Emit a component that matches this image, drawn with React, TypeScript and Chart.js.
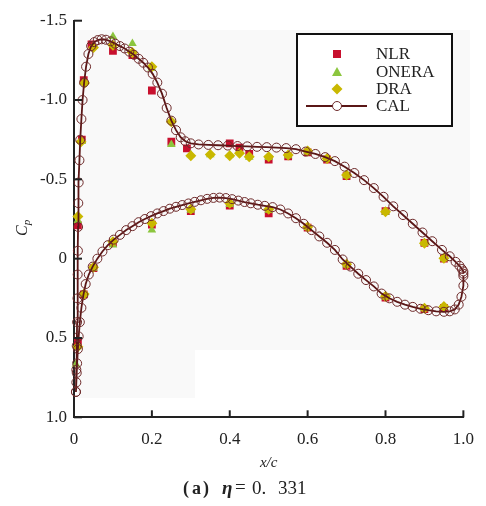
import React, { useEffect, useRef } from 'react';
import { Chart, registerables } from 'chart.js';
Chart.register(...registerables);

// ---------- tick labels ----------
const xTickValues = [0, 0.2, 0.4, 0.6, 0.8, 1.0];
const xTickLabels = ['0', '0.2', '0.4', '0.6', '0.8', '1.0'];
const yTickValues = [-1.5, -1.0, -0.5, 0, 0.5, 1.0];
const yTickLabels = ['-1.5', '-1.0', '-0.5', '0', '0.5', '1.0'];

const seriesNames = ['NLR', 'ONERA', 'DRA', 'CAL'];

// ---------- NLR (experiment) ----------
const nlrX = [0.01, 0.01, 0.02, 0.025, 0.045, 0.1, 0.15, 0.2, 0.25, 0.29, 0.4, 0.425, 0.45, 0.5, 0.55, 0.6, 0.65, 0.7, 0.8, 0.9, 0.95,
  0.025, 0.05, 0.1, 0.2, 0.3, 0.4, 0.5, 0.6, 0.7, 0.8, 0.9, 0.95];
const nlrCp = [0.53, -0.21, -0.75, -1.125, -1.35, -1.31, -1.283, -1.06, -0.737, -0.695, -0.727, -0.70, -0.66, -0.625, -0.645, -0.67, -0.625, -0.52, -0.30, -0.10, 0.0,
  0.225, 0.06, -0.10, -0.215, -0.30, -0.335, -0.285, -0.195, 0.045, 0.245, 0.318, 0.31];

// ---------- ONERA (experiment) ----------
const oneraX = [0.005, 0.01, 0.02, 0.025, 0.05, 0.1, 0.15, 0.2, 0.25, 0.3, 0.35, 0.4, 0.45, 0.5, 0.55, 0.6, 0.65, 0.7, 0.8, 0.9, 0.95,
  0.025, 0.05, 0.1, 0.2, 0.3, 0.4, 0.5, 0.6, 0.7, 0.8, 0.9, 0.95];
const oneraCp = [0.665, -0.24, -0.74, -1.11, -1.34, -1.40, -1.356, -1.20, -0.72, -0.655, -0.655, -0.653, -0.64, -0.638, -0.648, -0.673, -0.628, -0.522, -0.292, -0.097, 0.0,
  0.225, 0.06, -0.086, -0.18, -0.305, -0.342, -0.305, -0.196, 0.04, 0.242, 0.316, 0.306];

// ---------- DRA (experiment) ----------
const draX = [0.01, 0.01, 0.018, 0.027, 0.05, 0.1, 0.15, 0.2, 0.25, 0.3, 0.35, 0.4, 0.425, 0.45, 0.5, 0.55, 0.6, 0.65, 0.7, 0.8, 0.9, 0.95,
  0.026, 0.05, 0.1, 0.2, 0.3, 0.4, 0.5, 0.6, 0.7, 0.8, 0.9, 0.95];
const draCp = [0.555, -0.265, -0.737, -1.108, -1.331, -1.346, -1.30, -1.209, -0.863, -0.649, -0.657, -0.649, -0.664, -0.642, -0.642, -0.653, -0.678, -0.632, -0.527, -0.296, -0.097, -0.002,
  0.222, 0.054, -0.107, -0.223, -0.311, -0.349, -0.311, -0.20, 0.035, 0.237, 0.312, 0.302];

// ---------- CAL (computation), upper surface LE -> TE ----------
const calUpperX = [0.005, 0.006, 0.007, 0.008, 0.009, 0.0095, 0.010, 0.0105, 0.011, 0.012, 0.014, 0.016, 0.019, 0.022, 0.026, 0.031, 0.037, 0.044, 0.052, 0.061,
  0.071, 0.082, 0.094, 0.106, 0.118, 0.130, 0.142, 0.154, 0.166, 0.178, 0.190, 0.202, 0.214, 0.226, 0.238, 0.250, 0.262, 0.274, 0.286, 0.300,
  0.320, 0.345, 0.370, 0.395, 0.420, 0.445, 0.470, 0.495, 0.520, 0.545, 0.570, 0.595, 0.620, 0.645, 0.670, 0.695, 0.720, 0.745, 0.770, 0.795,
  0.820, 0.845, 0.870, 0.895, 0.920, 0.945, 0.965, 0.980, 0.990, 0.996, 1.000, 1.000];
const calUpperCp = [0.84, 0.70, 0.55, 0.40, 0.25, 0.10, -0.05, -0.20, -0.35, -0.48, -0.62, -0.75, -0.88, -1.00, -1.11, -1.21, -1.29, -1.34, -1.365, -1.378,
  -1.383, -1.38, -1.37, -1.355, -1.34, -1.325, -1.305, -1.285, -1.26, -1.235, -1.205, -1.165, -1.11, -1.04, -0.95, -0.87, -0.81, -0.765, -0.74, -0.727,
  -0.72, -0.717, -0.715, -0.713, -0.71, -0.708, -0.705, -0.703, -0.70, -0.697, -0.69, -0.675, -0.66, -0.64, -0.615, -0.58, -0.54, -0.495, -0.445, -0.39,
  -0.33, -0.275, -0.22, -0.165, -0.11, -0.055, -0.015, 0.02, 0.045, 0.065, 0.08, 0.095];

// ---------- CAL (computation), lower surface LE -> TE ----------
const calLowerX = [0.005, 0.006, 0.007, 0.008, 0.010, 0.012, 0.015, 0.019, 0.024, 0.030, 0.038, 0.048, 0.060, 0.073, 0.087, 0.102, 0.118, 0.134, 0.150, 0.166,
  0.182, 0.198, 0.214, 0.230, 0.246, 0.262, 0.278, 0.294, 0.310, 0.326, 0.342, 0.358, 0.374, 0.390, 0.406, 0.422, 0.438, 0.454, 0.472, 0.490,
  0.510, 0.530, 0.550, 0.570, 0.590, 0.610, 0.630, 0.650, 0.670, 0.690, 0.710, 0.730, 0.750, 0.770, 0.790, 0.810, 0.830, 0.850, 0.870, 0.890,
  0.910, 0.930, 0.950, 0.965, 0.978, 0.988, 0.995, 1.000, 1.000];
const calLowerCp = [0.84, 0.78, 0.72, 0.66, 0.57, 0.49, 0.40, 0.31, 0.23, 0.16, 0.10, 0.05, 0.00, -0.045, -0.085, -0.12, -0.15, -0.18, -0.205, -0.23,
  -0.25, -0.268, -0.285, -0.30, -0.315, -0.327, -0.338, -0.348, -0.358, -0.368, -0.377, -0.383, -0.385, -0.382, -0.375, -0.366, -0.357, -0.349, -0.34, -0.333,
  -0.325, -0.31, -0.285, -0.255, -0.22, -0.18, -0.14, -0.10, -0.055, 0.005, 0.05, 0.095, 0.135, 0.175, 0.22, 0.25, 0.272, 0.29, 0.304, 0.316,
  0.325, 0.332, 0.335, 0.332, 0.32, 0.29, 0.24, 0.17, 0.11];

const zip = (xs: number[], ys: number[]) => xs.map((x, i) => ({ x, y: ys[i] }));

const SERIF = '"Liberation Serif", "DejaVu Serif", serif';
const TEXT = '#222';
const NLR_COLOR = '#c8102e';
const ONERA_COLOR = '#8cc63e';
const DRA_COLOR = '#c9b800';
const CAL_LINE = '#5a1616';
const CAL_POINT = '#6e2a2a';

function labelFor(values: number[], labels: string[], v: number) {
  const i = values.findIndex((t) => Math.abs(t - v) < 1e-6);
  return i >= 0 ? labels[i] : '';
}

const decorPlugin = {
  id: 'decor',
  beforeDatasetsDraw(chart: any) {
    const { ctx } = chart;
    ctx.save();
    ctx.fillStyle = '#f9f9f9';
    ctx.fillRect(78, 30, 392, 320);
    ctx.fillRect(78, 350, 117, 48);
    ctx.restore();
  },
  afterDraw(chart: any) {
    const { ctx, chartArea, scales } = chart;
    const xs = scales.x;
    const ys = scales.y;
    ctx.save();
    // inward tick marks
    ctx.strokeStyle = '#222';
    ctx.lineWidth = 2;
    ys.ticks.forEach((t: any) => {
      const y = ys.getPixelForValue(t.value);
      ctx.beginPath();
      ctx.moveTo(chartArea.left, y);
      ctx.lineTo(chartArea.left + 8, y);
      ctx.stroke();
    });
    xs.ticks.forEach((t: any) => {
      const x = xs.getPixelForValue(t.value);
      ctx.beginPath();
      ctx.moveTo(x, chartArea.bottom);
      ctx.lineTo(x, chartArea.bottom - 7);
      ctx.stroke();
    });

    // x axis title
    ctx.fillStyle = TEXT;
    ctx.font = `italic 15px ${SERIF}`;
    ctx.textAlign = 'center';
    ctx.textBaseline = 'middle';
    ctx.fillText('x/c', (chartArea.left + chartArea.right) / 2, 463);

    // y axis title C_p (rotated)
    ctx.save();
    ctx.translate(22, 236);
    ctx.rotate(-Math.PI / 2);
    ctx.textAlign = 'left';
    ctx.textBaseline = 'alphabetic';
    ctx.font = `italic 16px ${SERIF}`;
    ctx.fillText('C', 0, 5);
    const cw = ctx.measureText('C').width;
    ctx.font = `italic 11px ${SERIF}`;
    ctx.fillText('p', cw, 8);
    ctx.restore();

    // caption
    ctx.textAlign = 'left';
    ctx.textBaseline = 'middle';
    const cy = 489;
    ctx.font = `bold 18px ${SERIF}`;
    ctx.fillText('(', 183, cy);
    ctx.fillText('a', 192, cy);
    ctx.fillText(')', 203, cy);
    ctx.font = `bold italic 19px ${SERIF}`;
    ctx.fillText('η', 222, cy);
    ctx.font = `19px ${SERIF}`;
    ctx.fillText('=', 235, cy - 1);
    ctx.fillText('0.', 252, cy);
    ctx.fillText('331', 278, cy);

    // legend
    const bx = 297, by = 34, bw = 155, bh = 92;
    ctx.fillStyle = '#ffffff';
    ctx.fillRect(bx, by, bw, bh);
    ctx.strokeStyle = '#111';
    ctx.lineWidth = 2;
    ctx.strokeRect(bx, by, bw, bh);
    const mx = 337;
    const tx = 376;
    const rows = [54, 72, 89, 106];
    // NLR square
    ctx.fillStyle = NLR_COLOR;
    ctx.fillRect(mx - 4, rows[0] - 4, 8, 8);
    // ONERA triangle
    ctx.fillStyle = ONERA_COLOR;
    ctx.beginPath();
    ctx.moveTo(mx, rows[1] - 5);
    ctx.lineTo(mx + 5, rows[1] + 4);
    ctx.lineTo(mx - 5, rows[1] + 4);
    ctx.closePath();
    ctx.fill();
    // DRA diamond
    ctx.fillStyle = DRA_COLOR;
    ctx.beginPath();
    ctx.moveTo(mx, rows[2] - 5.5);
    ctx.lineTo(mx + 5.5, rows[2]);
    ctx.lineTo(mx, rows[2] + 5.5);
    ctx.lineTo(mx - 5.5, rows[2]);
    ctx.closePath();
    ctx.fill();
    // CAL line + circle
    ctx.strokeStyle = CAL_LINE;
    ctx.lineWidth = 2;
    ctx.beginPath();
    ctx.moveTo(306, rows[3]);
    ctx.lineTo(367, rows[3]);
    ctx.stroke();
    ctx.fillStyle = '#fff';
    ctx.strokeStyle = CAL_POINT;
    ctx.lineWidth = 1;
    ctx.beginPath();
    ctx.arc(mx, rows[3], 4.5, 0, Math.PI * 2);
    ctx.fill();
    ctx.stroke();

    ctx.fillStyle = TEXT;
    ctx.font = `17px ${SERIF}`;
    ctx.textAlign = 'left';
    ctx.textBaseline = 'middle';
    seriesNames.forEach((n, i) => ctx.fillText(n, tx, rows[i] + 1));
    ctx.restore();
  },
};

export default function App() {
  const ref = useRef<HTMLCanvasElement | null>(null);
  useEffect(() => {
    if (!ref.current) return;
    const chart = new Chart(ref.current, {
      type: 'scatter',
      data: {
        datasets: [
          {
            label: seriesNames[0],
            data: zip(nlrX, nlrCp),
            order: 3,
            pointStyle: 'rect',
            pointRadius: 5.5,
            backgroundColor: NLR_COLOR,
            borderColor: NLR_COLOR,
            pointBorderWidth: 0,
            clip: 8,
          },
          {
            label: seriesNames[1],
            data: zip(oneraX, oneraCp),
            order: 2,
            pointStyle: 'triangle',
            pointRadius: 5,
            backgroundColor: ONERA_COLOR,
            borderColor: ONERA_COLOR,
            pointBorderWidth: 0,
            clip: 8,
          },
          {
            label: seriesNames[2],
            data: zip(draX, draCp),
            order: 1,
            pointStyle: 'rectRot',
            pointRadius: 5.5,
            backgroundColor: DRA_COLOR,
            borderColor: DRA_COLOR,
            pointBorderWidth: 0,
            clip: 8,
          },
          {
            label: seriesNames[3],
            data: [...zip(calLowerX, calLowerCp).reverse(), ...zip(calUpperX, calUpperCp)],
            order: 0,
            showLine: true,
            tension: 0,
            borderColor: CAL_LINE,
            borderWidth: 1.8,
            pointStyle: 'circle',
            pointRadius: 4.5,
            pointBorderColor: CAL_POINT,
            pointBackgroundColor: 'rgba(0,0,0,0)',
            pointBorderWidth: 1,
            clip: 8,
          } as any,
        ],
      },
      options: {
        animation: false,
        responsive: false,
        maintainAspectRatio: false,
        devicePixelRatio: 1,
        layout: { padding: { top: 20.7, right: 20, left: 0, bottom: 0 } },
        plugins: { legend: { display: false }, tooltip: { enabled: false } },
        scales: {
          x: {
            type: 'linear',
            min: 0,
            max: 1,
            afterBuildTicks: (s: any) => { s.ticks = xTickValues.map((v) => ({ value: v })); },
            afterFit: (s: any) => { s.height = 88.7; },
            grid: { display: true, drawOnChartArea: false, drawTicks: false, color: 'rgba(0,0,0,0)' },
            border: { display: true, color: '#222', width: 2 },
            ticks: {
              padding: 12,
              color: TEXT,
              font: { family: SERIF, size: 17 },
              maxRotation: 0,
              callback: (v: any) => labelFor(xTickValues, xTickLabels, Number(v)),
            },
          },
          y: {
            type: 'linear',
            reverse: true,
            min: -1.5,
            max: 1.0,
            afterBuildTicks: (s: any) => { s.ticks = yTickValues.map((v) => ({ value: v })); },
            afterFit: (s: any) => { s.width = 74; },
            grid: { display: true, drawOnChartArea: false, drawTicks: false, color: 'rgba(0,0,0,0)' },
            border: { display: true, color: '#222', width: 2 },
            ticks: {
              padding: 7,
              color: TEXT,
              font: { family: SERIF, size: 17 },
              callback: (v: any) => labelFor(yTickValues, yTickLabels, Number(v)),
            },
          },
        },
      } as any,
      plugins: [decorPlugin],
    });
    return () => chart.destroy();
  }, []);
  return (
    <div style={{ position: 'absolute', left: 0, top: 0, width: 486, height: 506, background: '#fff' }}>
      <canvas ref={ref} width={486} height={506} style={{ width: 486, height: 506, display: 'block' }} />
    </div>
  );
}
